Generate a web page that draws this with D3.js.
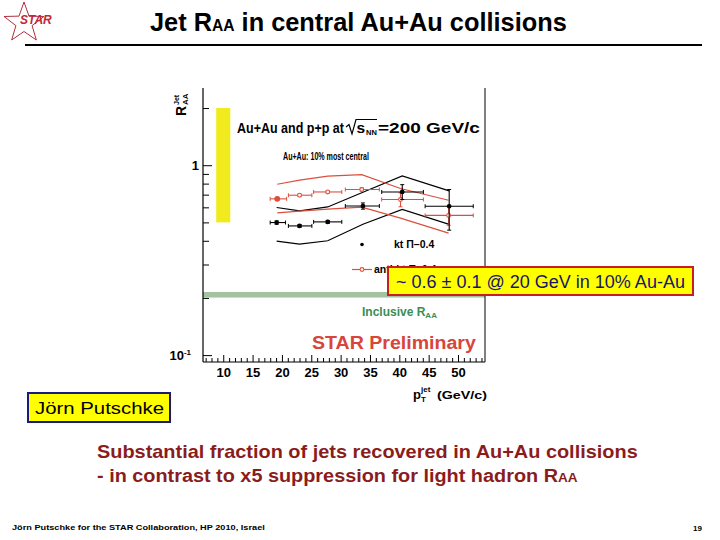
<!DOCTYPE html>
<html><head><meta charset="utf-8">
<script src="https://cdn.jsdelivr.net/npm/d3@7"></script>
<style>
body{margin:0;background:#fff}
svg{display:block}
text{font-family:"Liberation Sans",Arial,Helvetica,sans-serif}
</style>
</head><body>
<svg id="c" width="720" height="540"></svg>
<script>
// ---- data ----
const ktX = [19.1, 23.0, 27.8, 33.8, 40.5, 48.5];
const ktXLow = [18.0, 21.1, 25.4, 30.8, 37.0, 44.4];
const ktXHigh = [20.6, 25.1, 30.2, 36.6, 44.1, 52.6];
const ktValues = [0.499, 0.479, 0.503, 0.610, 0.723, 0.608];
const ktErrLow = [0.489, 0.471, 0.494, 0.587, 0.660, 0.455];
const ktErrHigh = [0.509, 0.487, 0.512, 0.633, 0.790, 0.745];
const ktSysLow = [0.398, 0.384, 0.400, 0.489, 0.585, 0.488];
const ktSysHigh = [0.599, 0.575, 0.603, 0.721, 0.878, 0.732];

const antiX = [19.2, 23.0, 27.8, 33.6, 40.2, 48.4];
const antiXLow = [18.0, 21.1, 25.4, 30.8, 37.0, 44.4];
const antiXHigh = [20.8, 25.1, 30.2, 36.6, 44.1, 52.6];
const antiValues = [0.665, 0.695, 0.723, 0.745, 0.660, 0.544];
const antiErrLow = [0.655, 0.686, 0.714, 0.730, 0.604, 0.483];
const antiErrHigh = [0.675, 0.704, 0.732, 0.760, 0.715, 0.608];
const antiSysLow = [0.561, 0.573, 0.587, 0.601, 0.526, 0.439];
const antiSysHigh = [0.794, 0.834, 0.875, 0.891, 0.754, 0.654];

const xTickLabels = [10, 15, 20, 25, 30, 35, 40, 45, 50];
const yTickValues = [0.1, 0.2, 0.3, 0.4, 0.5, 0.6, 0.7, 0.8, 0.9, 1, 2];
const yTickLabels = [0.1, 1];
const inclusiveBand = [0.201, 0.215];
const normBandY = [0.5, 2.0];
const normBandX = [8.8, 11.2];

// ---- setup ----
const svg = d3.select("#c");
const x = d3.scaleLinear().domain([6.55, 54.6]).range([203, 485]);
const y = d3.scaleLog().domain([0.092, 2.55]).range([362, 88]);
const black = "#000";
const red = "#dc4f3c";

// text placed at (px,py) and horizontally scaled to a given width
function fitText(parent, px, py, width, attrs) {
  const t = parent.append("text").attr("x", 0).attr("y", 0);
  Object.entries(attrs || {}).forEach(([k, v]) => t.attr(k, v));
  return {
    t, done() {
      const w = t.node().getComputedTextLength();
      t.attr("transform", `translate(${px},${py}) scale(${width / w},1)`);
      return t;
    }
  };
}

// ---- slide decorations ----
const star = [];
for (let i = 0; i < 10; i++) {
  const a = -Math.PI / 2 + i * Math.PI / 5;
  const r = i % 2 === 0 ? 21 : 8.5;
  star.push([24 + r * Math.cos(a), 23 + r * Math.sin(a)]);
}
svg.append("path").attr("d", d3.line()(star) + "Z")
  .attr("fill", "none").attr("stroke", "#b03040").attr("stroke-width", 1);
svg.append("text").attr("x", 20).attr("y", 24).attr("font-family", "'Liberation Serif',serif")
  .attr("font-style", "italic").attr("font-weight", "bold").attr("font-size", 12)
  .attr("fill", "#c0283a").text("STAR");

let f = fitText(svg, 150, 31, 417, { "font-weight": "bold", "font-size": 26, fill: "#000" });
f.t.append("tspan").text("Jet R");
f.t.append("tspan").attr("font-size", 16).text("AA");
f.t.append("tspan").text(" in central Au+Au collisions");
f.done();
svg.append("line").attr("x1", 25).attr("x2", 702).attr("y1", 45).attr("y2", 45)
  .attr("stroke", "#000").attr("stroke-width", 2);

// ---- plot ----
const g = svg.append("g");

g.append("rect").attr("x", x(normBandX[0])).attr("width", x(normBandX[1]) - x(normBandX[0]))
  .attr("y", y(normBandY[1])).attr("height", y(normBandY[0]) - y(normBandY[1]))
  .attr("fill", "#f1ea1c");

g.append("rect").attr("x", 203).attr("width", 282)
  .attr("y", y(inclusiveBand[1])).attr("height", y(inclusiveBand[0]) - y(inclusiveBand[1]))
  .attr("fill", "#a3c3a0");

const xTicks = d3.range(7, 55);
const xAxis = d3.axisBottom(x).tickValues(xTicks).tickSizeInner(-4).tickSizeOuter(0).tickPadding(6)
  .tickFormat(d => xTickLabels.includes(d) ? d : "");
const gx = g.append("g").attr("transform", "translate(0,362)").call(xAxis);
gx.select(".domain").remove();
gx.selectAll(".tick line").attr("y2", d => d % 5 === 0 ? -7 : -4).attr("stroke", "#000");
gx.selectAll(".tick text").attr("font-size", 13).attr("font-weight", "bold").attr("fill", "#000")
  .attr("font-family", "'Liberation Sans',Arial,sans-serif").attr("dy", "0.71em");

const yAxis = d3.axisLeft(y).tickValues(yTickValues).tickSizeInner(-5).tickSizeOuter(0).tickPadding(4)
  .tickFormat(d => yTickLabels.includes(d) ? (d === 1 ? "1" : "10") : "");
const gy = g.append("g").attr("transform", "translate(203,0)").call(yAxis);
gy.select(".domain").remove();
gy.selectAll(".tick line").attr("x2", d => yTickLabels.includes(d) ? 9 : 6).attr("stroke", "#000");
gy.selectAll(".tick text").attr("font-size", 13).attr("font-weight", "bold").attr("fill", "#000")
  .attr("font-family", "'Liberation Sans',Arial,sans-serif");
gy.selectAll(".tick text").filter(d => d === 0.1)
  .attr("x", -12).append("tspan").attr("dy", -5).attr("font-size", 8).text("-1");

g.append("line").attr("x1", 203).attr("x2", 203).attr("y1", 88).attr("y2", 362).attr("stroke", "#000").attr("stroke-width", 1.2);
g.append("line").attr("x1", 203).attr("x2", 485).attr("y1", 362).attr("y2", 362).attr("stroke", "#000").attr("stroke-width", 1.2);
g.append("line").attr("x1", 485).attr("x2", 485).attr("y1", 88).attr("y2", 362).attr("stroke", "#000").attr("stroke-width", 1);

const line = (xs, ys) => d3.line().x((d, i) => x(xs[i])).y(d => y(d))(ys);
[[ktX, ktSysHigh, black], [ktX, ktSysLow, black], [antiX, antiSysHigh, red], [antiX, antiSysLow, red]]
  .forEach(([xs, ys, c]) => g.append("path").attr("d", line(xs, ys)).attr("fill", "none")
    .attr("stroke", c).attr("stroke-width", 1.2));

function drawSeries(xs, xl, xh, v, el, eh, color, filled, r) {
  const s = g.append("g");
  xs.forEach((xv, i) => {
    const cy = y(v[i]);
    s.append("line").attr("x1", x(xl[i])).attr("x2", x(xh[i])).attr("y1", cy).attr("y2", cy).attr("stroke", color).attr("stroke-width", 1.1);
    [xl[i], xh[i]].forEach(e => s.append("line").attr("x1", x(e)).attr("x2", x(e)).attr("y1", cy - 2).attr("y2", cy + 2).attr("stroke", color).attr("stroke-width", 1));
    s.append("line").attr("x1", x(xv)).attr("x2", x(xv)).attr("y1", y(el[i])).attr("y2", y(eh[i])).attr("stroke", color).attr("stroke-width", 1.1);
    [el[i], eh[i]].forEach(e => s.append("line").attr("x1", x(xv) - 2).attr("x2", x(xv) + 2).attr("y1", y(e)).attr("y2", y(e)).attr("stroke", color).attr("stroke-width", 1));
    s.append("circle").attr("cx", x(xv)).attr("cy", cy).attr("r", r(i))
      .attr("fill", filled(i) ? color : "#fff").attr("stroke", color).attr("stroke-width", 1.1);
  });
}
drawSeries(antiX, antiXLow, antiXHigh, antiValues, antiErrLow, antiErrHigh, red, i => i === 0, i => i === 0 ? 2.4 : 1.9);
drawSeries(ktX, ktXLow, ktXHigh, ktValues, ktErrLow, ktErrHigh, black, () => true, () => 1.8);

f = fitText(g, 237, 133, 107, { "font-weight": "bold", "font-size": 15.5 });
f.t.text("Au+Au and p+p at"); f.done();
g.append("path").attr("d", "M346,127 L349,124.5 L352,134 L356,119.5 L377,119.5")
  .attr("fill", "none").attr("stroke", "#000").attr("stroke-width", 1.2);
g.append("text").attr("x", 356.5).attr("y", 133).attr("font-weight", "bold").attr("font-size", 15.5).text("s");
g.append("text").attr("x", 366).attr("y", 135).attr("font-weight", "bold").attr("font-size", 7.5).text("NN");
f = fitText(g, 378, 133, 102, { "font-weight": "bold", "font-size": 15.5 });
f.t.text("=200 GeV/c"); f.done();
f = fitText(g, 283, 160, 86, { "font-weight": "bold", "font-size": 11.5 });
f.t.text("Au+Au: 10% most central"); f.done();

g.append("circle").attr("cx", 362).attr("cy", 244.5).attr("r", 1.8).attr("fill", "#000");
g.append("text").attr("x", 394).attr("y", 248).attr("font-weight", "bold").attr("font-size", 10.5).text("kt Π–0.4");
g.append("line").attr("x1", 352).attr("x2", 372).attr("y1", 269.5).attr("y2", 269.5).attr("stroke", red).attr("stroke-width", 1.2);
g.append("circle").attr("cx", 362).attr("cy", 269.5).attr("r", 1.9).attr("fill", "#fff").attr("stroke", red).attr("stroke-width", 1.1);
g.append("text").attr("x", 374).attr("y", 273).attr("font-weight", "bold").attr("font-size", 10.5).text("anti-kt Π–0.4");

const inc = g.append("text").attr("x", 362).attr("y", 316).attr("font-weight", "bold").attr("font-size", 12).attr("fill", "#3b8d55");
inc.append("tspan").text("Inclusive R");
inc.append("tspan").attr("font-size", 8).attr("dy", 2).text("AA");

f = fitText(g, 312, 348.5, 164, { "font-weight": "bold", "font-size": 19, fill: "#d8453a" });
f.t.text("STAR Preliminary"); f.done();

const yl = svg.append("g").attr("transform", "translate(186,102) rotate(-90)");
yl.append("text").attr("x", -14).attr("y", 0).attr("font-weight", "bold").attr("font-size", 14).text("R");
yl.append("text").attr("x", -3).attr("y", -7).attr("font-weight", "bold").attr("font-size", 7).text("Jet");
yl.append("text").attr("x", -3).attr("y", 2).attr("font-weight", "bold").attr("font-size", 8).text("AA");

svg.append("text").attr("x", 413).attr("y", 399).attr("font-weight", "bold").attr("font-size", 13).text("p");
svg.append("text").attr("x", 421).attr("y", 402).attr("font-weight", "bold").attr("font-size", 8).text("T");
svg.append("text").attr("x", 421).attr("y", 392).attr("font-weight", "bold").attr("font-size", 8).text("jet");
f = fitText(svg, 437, 399, 50, { "font-weight": "bold", "font-size": 11.5 });
f.t.text("(GeV/c)"); f.done();

svg.append("rect").attr("x", 388).attr("y", 267).attr("width", 305).attr("height", 28)
  .attr("fill", "#ffff00").attr("stroke", "#c81e1e").attr("stroke-width", 2);
f = fitText(svg, 396, 288, 289, { "font-size": 18, fill: "#16166b" });
f.t.text("~ 0.6 ± 0.1 @ 20 GeV in 10% Au-Au"); f.done();

svg.append("rect").attr("x", 28).attr("y", 393).attr("width", 142).attr("height", 29)
  .attr("fill", "#ffff00").attr("stroke", "#1a1a7a").attr("stroke-width", 2);
f = fitText(svg, 35, 414, 129, { "font-size": 17, fill: "#000" });
f.t.text("Jörn Putschke"); f.done();

f = fitText(svg, 97, 458, 541, { "font-weight": "bold", "font-size": 19, fill: "#8b1c1c" });
f.t.text("Substantial fraction of jets recovered in Au+Au collisions"); f.done();
f = fitText(svg, 97, 482, 481, { "font-weight": "bold", "font-size": 19, fill: "#8b1c1c" });
f.t.append("tspan").text("- in contrast to x5 suppression for light hadron R");
f.t.append("tspan").attr("font-size", 13).text("AA");
f.done();

f = fitText(svg, 12, 530, 253, { "font-weight": "bold", "font-size": 8 });
f.t.text("Jörn Putschke for the STAR Collaboration, HP 2010, Israel"); f.done();
svg.append("text").attr("x", 693).attr("y", 531).attr("font-weight", "bold").attr("font-size", 8).text("19");
</script>
</body></html>
